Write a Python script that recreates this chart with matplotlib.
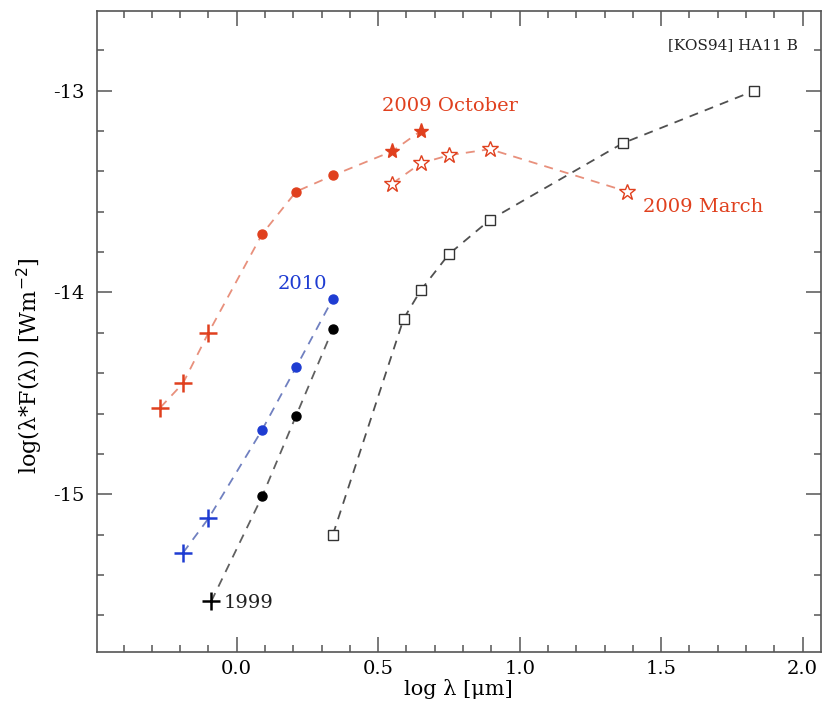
import matplotlib
matplotlib.use('Agg')
import matplotlib.pyplot as plt
from matplotlib.ticker import MultipleLocator

plt.rcParams['font.family'] = ['DejaVu Serif']

# photometry of [KOS94] HA11 B, log lambda [um] vs log(lambda*F) [W m^-2]
# 2009 optical + near-IR (red), Spitzer 2009 October (filled stars)
red_cross_x = [-0.27, -0.19, -0.10]
red_cross_y = [-14.57, -14.45, -14.20]
red_dot_x = [0.09, 0.21, 0.34]
red_dot_y = [-13.71, -13.50, -13.42]
oct_x = [0.55, 0.65]
oct_y = [-13.30, -13.20]
# 2009 March (open stars)
mar_x = [0.55, 0.65, 0.75, 0.895, 1.38]
mar_y = [-13.46, -13.36, -13.32, -13.29, -13.50]
# 2010 (blue)
blue_cross_x = [-0.19, -0.10]
blue_cross_y = [-15.29, -15.12]
blue_dot_x = [0.09, 0.21, 0.34]
blue_dot_y = [-14.68, -14.37, -14.03]
# 1999 (black)
blk_cross_x = [-0.09]
blk_cross_y = [-15.53]
blk_dot_x = [0.09, 0.21, 0.34]
blk_dot_y = [-15.01, -14.61, -14.18]
# open squares
sq_x = [0.34, 0.59, 0.65, 0.75, 0.895, 1.365, 1.83]
sq_y = [-15.20, -14.13, -13.99, -13.81, -13.64, -13.26, -13.00]

red = '#e0401e'
blue = '#1e3cd2'

fig = plt.figure(figsize=(8.23, 7.17), dpi=100)
ax = fig.add_axes([0.1175, 0.0911, 0.880, 0.8936])

ds = (5, 4)
# dashed connecting lines
ax.plot(red_cross_x + red_dot_x + oct_x, red_cross_y + red_dot_y + oct_y,
        ls='--', dashes=ds, color='#e8907c', lw=1.3, zorder=1)
ax.plot(mar_x, mar_y, ls='--', dashes=ds, color='#e8907c', lw=1.3, zorder=1)
ax.plot(blue_cross_x + blue_dot_x, blue_cross_y + blue_dot_y,
        ls='--', dashes=ds, color='#7080c0', lw=1.3, zorder=1)
ax.plot(blk_cross_x + blk_dot_x, blk_cross_y + blk_dot_y,
        ls='--', dashes=ds, color='#606060', lw=1.3, zorder=1)
ax.plot(sq_x, sq_y, ls='--', dashes=ds, color='#505050', lw=1.3, zorder=1)

# markers
ax.plot(red_cross_x, red_cross_y, '+', color=red, ms=13, mew=1.8, ls='none')
ax.plot(red_dot_x, red_dot_y, 'o', color=red, ms=6.5, ls='none')
ax.plot(oct_x, oct_y, '*', color=red, ms=11, ls='none')
ax.plot(mar_x, mar_y, '*', mfc='white', mec=red, mew=1.0, ms=12, ls='none')
ax.plot(blue_cross_x, blue_cross_y, '+', color=blue, ms=13, mew=1.8, ls='none')
ax.plot(blue_dot_x, blue_dot_y, 'o', color=blue, ms=6.5, ls='none')
ax.plot(blk_cross_x, blk_cross_y, '+', color='black', ms=13, mew=1.8, ls='none')
ax.plot(blk_dot_x, blk_dot_y, 'o', color='black', ms=6.5, ls='none')
ax.plot(sq_x, sq_y, 's', mfc='white', mec='#333333', mew=1.0, ms=6.5, ls='none')

# labels
ax.text(0.515, -13.075, '2009 October', color=red, fontsize=14, va='center')
ax.text(1.435, -13.576, '2009 March', color=red, fontsize=14, va='center')
ax.text(0.146, -13.957, '2010', color=blue, fontsize=14, va='center')
ax.text(-0.045, -15.54, '1999', color='#222222', fontsize=14, va='center')
ax.text(1.983, -12.774, '[KOS94] HA11 B', color='#222222', fontsize=11,
        ha='right', va='center')

ax.set_xlim(-0.495, 2.065)
ax.set_ylim(-15.78, -12.605)
ax.xaxis.set_major_locator(MultipleLocator(0.5))
ax.xaxis.set_minor_locator(MultipleLocator(0.1))
ax.yaxis.set_major_locator(MultipleLocator(1.0))
ax.yaxis.set_minor_locator(MultipleLocator(0.2))
ax.xaxis.set_major_formatter(plt.FuncFormatter(lambda v, p: '%.1f' % v))
ax.yaxis.set_major_formatter(plt.FuncFormatter(lambda v, p: '%d' % v if v >= 0 else '-%d' % -v))

ax.tick_params(which='both', direction='in', top=True, right=True,
               color='#555555', labelsize=14, width=1.1)
ax.tick_params(which='major', length=11)
ax.tick_params(which='minor', length=5)
ax.tick_params(axis='x', which='major', pad=6)
ax.tick_params(axis='y', which='major', pad=9)
for s in ax.spines.values():
    s.set_color('#555555')
    s.set_linewidth(1.2)

ax.set_xlabel('log \u03bb [\u03bcm]', fontsize=15, labelpad=1)
ax.set_ylabel('log(\u03bb*F(\u03bb)) [Wm$^{-2}$]', fontsize=16)
ax.yaxis.set_label_coords(-0.072, 0.447)

fig.savefig('out.png', dpi=100)
